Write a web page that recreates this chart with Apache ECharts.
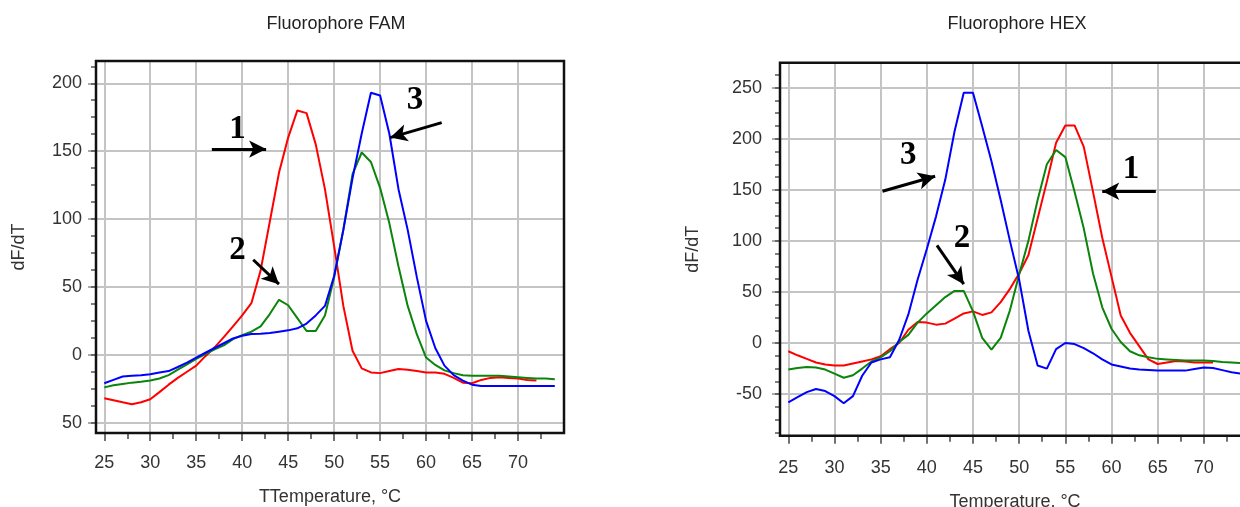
<!DOCTYPE html>
<html>
<head>
<meta charset="utf-8">
<script src="https://cdn.jsdelivr.net/npm/echarts@6/dist/echarts.min.js"></script>
<style>
html,body{margin:0;padding:0;background:#fff;}
#chart{width:1240px;height:507px;}
</style>
</head>
<body>
<div id="chart"></div>
<script>
// ---- data ----
const temps = [25,26,27,28,29,30,31,32,33,34,35,36,37,38,39,40,41,42,43,44,45,46,47,48,49,50,51,52,53,54,55,56,57,58,59,60,61,62,63,64,65,66,67,68,69,70,71,72,73,74];

// Fluorophore FAM
const famCurve1 = [-32,-33.5,-35,-36.4,-35,-32.7,-27.5,-22,-17,-12.5,-8,-1,5.5,13,21,29,38,62,98,134,160,180,178,155,122,80,36,3,-10,-13,-13.5,-12,-10.5,-11,-12,-13,-13,-14,-17,-20.5,-21,-18.5,-17,-16.5,-17,-17.5,-18.5,-19,null,null];
const famCurve2 = [-24,-22.5,-21.5,-20.5,-19.8,-19,-17.5,-15,-11,-7,-3,0.5,4,7,11.5,14.5,17,21,30,40.5,36.5,27,17.5,17.5,29,57,92,133,149,142,123,97,65,36,15,-2,-7.5,-11.5,-13.5,-15,-15.5,-15.5,-15.5,-15.5,-16,-16.5,-17,-17.5,-17.5,-18];
const famCurve3 = [-21,-18.5,-16,-15.5,-15,-14.3,-13,-12,-9,-5.7,-2,1.5,5,8.5,12,14,15.3,15.5,16,17,18,19.5,23,29,36,58,92,130,163,193,191,163,122,92,57,25,5,-8,-15,-19,-22,-23,-23,-23,-23,-23,-23,-23,-23,-23];

// Fluorophore HEX
const hexCurve1 = [-8,-12,-15.5,-19,-21,-22,-22,-20,-18,-16,-13,-6,0,13,20.5,20,18,19,24,29,31,27.5,30,40,53,68,86,122,158,196,213,213,192,148,103,65,27,10,-3,-16,-20.5,-19,-17.5,-18,-19,-19,-19,null,null,null];
const hexCurve2 = [-26,-24.5,-23.5,-24,-26,-30,-34,-31.5,-25,-18,-14,-8,1,8,20,29,37,45,51,51,31,5,-6.5,5,32,67,100,140,175,189,182,148,112,68,35,14,1,-8,-12,-14,-15.5,-16,-16.5,-17,-17,-17,-17.5,-18.5,-19,-19.5];
const hexCurve3 = [-58,-53,-48,-45,-47,-52,-59,-52,-32,-19,-16,-14,3,28,62,92,124,160,207,245,245,212,178,140,100,62,12,-22,-25,-6,0,-1,-5,-10,-16,-21,-23,-25,-26,-26.5,-27,-27,-27,-27,-25.5,-24,-24.5,-26.5,-28.5,-30];

// ticks / labels
const xMajorTicks = [25,30,35,40,45,50,55,60,65,70];
const xMinorTicks = [27.5,32.5,37.5,42.5,47.5,52.5,57.5,62.5,67.5,72.5];
const famYMajor = [-50,0,50,100,150,200];
const famYMinor = [-50,-37.5,-25,-12.5,0,12.5,25,37.5,50,62.5,75,87.5,100,112.5,125,137.5,150,162.5,175,187.5,200,212.5];
const hexYMajor = [-50,0,50,100,150,200,250];
const hexYMinor = [-87.5,-75,-62.5,-50,-37.5,-25,-12.5,0,12.5,25,37.5,50,62.5,75,87.5,100,112.5,125,137.5,150,162.5,175,187.5,200,212.5,225,237.5,250,262.5];

// annotation labels and arrows (data coordinates)
const famNotes = [
  {text:'1', tx:39.5, ty:166, x1:36.7, y1:151.5, x2:42.6, y2:151.5},
  {text:'2', tx:39.5, ty:77,  x1:41.2, y1:70,    x2:44.0, y2:52},
  {text:'3', tx:58.8, ty:187, x1:61.7, y1:171,   x2:56.1, y2:160}
];
const hexNotes = [
  {text:'1', tx:62.1, ty:170, x1:64.8, y1:148.6, x2:59.0, y2:148.6},
  {text:'2', tx:43.8, ty:102, x1:41.1, y1:95.6,  x2:44.0, y2:57.6},
  {text:'3', tx:38.0, ty:184, x1:35.2, y1:148.6, x2:40.9, y2:163.2}
];

// ---- rendering ----
const FONT = "'Liberation Sans', Arial, Helvetica, sans-serif";
const SERIF = "'Liberation Serif', 'Times New Roman', serif";
const RED = '#ff0000', GREEN = '#0b840b', BLUE = '#0000ff';

function pairs(vals){
  const out = [];
  temps.forEach((t,i)=>{ if(vals[i] !== null) out.push([t, vals[i]]); });
  return out;
}

const panels = [
  {title:'Fluorophore FAM', titleX:331, rect:{left:96, top:61, width:468, height:372},
   xMin:24.1, xMax:75, yMin:-57.6, yMax:216.4, yMajor:famYMajor, yMinor:famYMinor,
   yFmt:v=>String(Math.abs(v)), yLabelMargin:14, xLabelMargin:21, xName:'TTemperature, °C', xNameGap:55, yNameGap:68,
   curves:[famCurve1, famCurve2, famCurve3], notes:famNotes},
  {title:'Fluorophore HEX', titleX:1012, rect:{left:780, top:62.7, width:470, height:373},
   xMin:24.1, xMax:75, yMin:-90.7, yMax:274.4, yMajor:hexYMajor, yMinor:hexYMinor,
   yFmt:v=>String(v), yLabelMargin:18, xLabelMargin:23, xName:'Temperature, °C', xNameGap:57, yNameGap:78,
   curves:[hexCurve1, hexCurve2, hexCurve3], notes:hexNotes}
];

const option = {
  animation:false,
  backgroundColor:'#fff',
  title:[], grid:[], xAxis:[], yAxis:[], series:[]
};

const colors = [RED, GREEN, BLUE];

panels.forEach((p, pi)=>{
  const gMajor = pi*2, gMinor = pi*2+1;
  option.title.push({text:p.title, left:p.titleX, top:10, textAlign:'center',
    textStyle:{fontSize:18, fontWeight:'normal', color:'#222', fontFamily:FONT}});
  option.grid.push(Object.assign({show:true, z:5, borderColor:'#111', borderWidth:2.5, backgroundColor:'transparent', containLabel:false, outerBoundsMode:'none'}, p.rect));
  option.grid.push(Object.assign({show:false, containLabel:false, outerBoundsMode:'none'}, p.rect));

  option.xAxis.push({type:'value', gridIndex:gMajor, min:p.xMin, max:p.xMax, position:'bottom',
    axisLine:{show:false, onZero:false},
    axisTick:{show:true, customValues:xMajorTicks, length:8, lineStyle:{color:'#444', width:1.5}},
    axisLabel:{show:true, customValues:xMajorTicks, margin:p.xLabelMargin, fontSize:18, color:'#333', fontFamily:FONT},
    splitLine:{show:true, lineStyle:{color:'#c4c4c4', width:2}},
    name:p.xName, nameLocation:'middle', nameGap:p.xNameGap,
    nameTextStyle:{fontSize:18, color:'#333', fontFamily:FONT}});
  option.xAxis.push({type:'value', gridIndex:gMinor, min:p.xMin, max:p.xMax, position:'bottom',
    axisLine:{show:false, onZero:false}, axisLabel:{show:false}, splitLine:{show:false},
    axisTick:{show:true, customValues:xMinorTicks, length:6, lineStyle:{color:'#444', width:1.5}}});

  option.yAxis.push({type:'value', gridIndex:gMajor, min:p.yMin, max:p.yMax, position:'left',
    axisLine:{show:false, onZero:false},
    axisTick:{show:true, customValues:p.yMajor, length:8, lineStyle:{color:'#aaa', width:2}},
    axisLabel:{show:true, customValues:p.yMajor, margin:p.yLabelMargin, fontSize:18, color:'#333', fontFamily:FONT, formatter:p.yFmt},
    splitLine:{show:true, lineStyle:{color:'#c4c4c4', width:2}},
    name:'dF/dT', nameLocation:'middle', nameGap:p.yNameGap, nameRotate:90,
    nameTextStyle:{fontSize:18, color:'#333', fontFamily:FONT}});
  option.yAxis.push({type:'value', gridIndex:gMinor, min:p.yMin, max:p.yMax, position:'left',
    axisLine:{show:false, onZero:false}, axisLabel:{show:false}, splitLine:{show:false},
    axisTick:{show:true, customValues:p.yMinor, length:5, lineStyle:{color:'#555', width:1.5}}});

  p.curves.forEach((vals, ci)=>{
    const note = p.notes[ci];
    option.series.push({
      type:'line', xAxisIndex:gMajor, yAxisIndex:gMajor, data:pairs(vals),
      symbol:'none', showSymbol:false, silent:true, z:3,
      lineStyle:{color:colors[ci], width:2}, itemStyle:{color:colors[ci]},
      markLine:{silent:true, animation:false, symbol:['none','arrow'], symbolSize:[13,17],
        lineStyle:{color:'#000', width:3, type:'solid'}, label:{show:false},
        data:[[{coord:[note.x1, note.y1]},{coord:[note.x2, note.y2]}]]},
      markPoint:{silent:true, animation:false, symbol:'circle', symbolSize:1,
        itemStyle:{color:'rgba(0,0,0,0)'},
        label:{show:true, position:'inside', formatter:note.text, fontSize:33, fontWeight:'bold', fontFamily:SERIF, color:'#000'},
        data:[{coord:[note.tx, note.ty]}]}
    });
  });
});

const chart = echarts.init(document.getElementById('chart'), null, {renderer:'canvas'});
chart.setOption(option);
</script>
</body>
</html>
